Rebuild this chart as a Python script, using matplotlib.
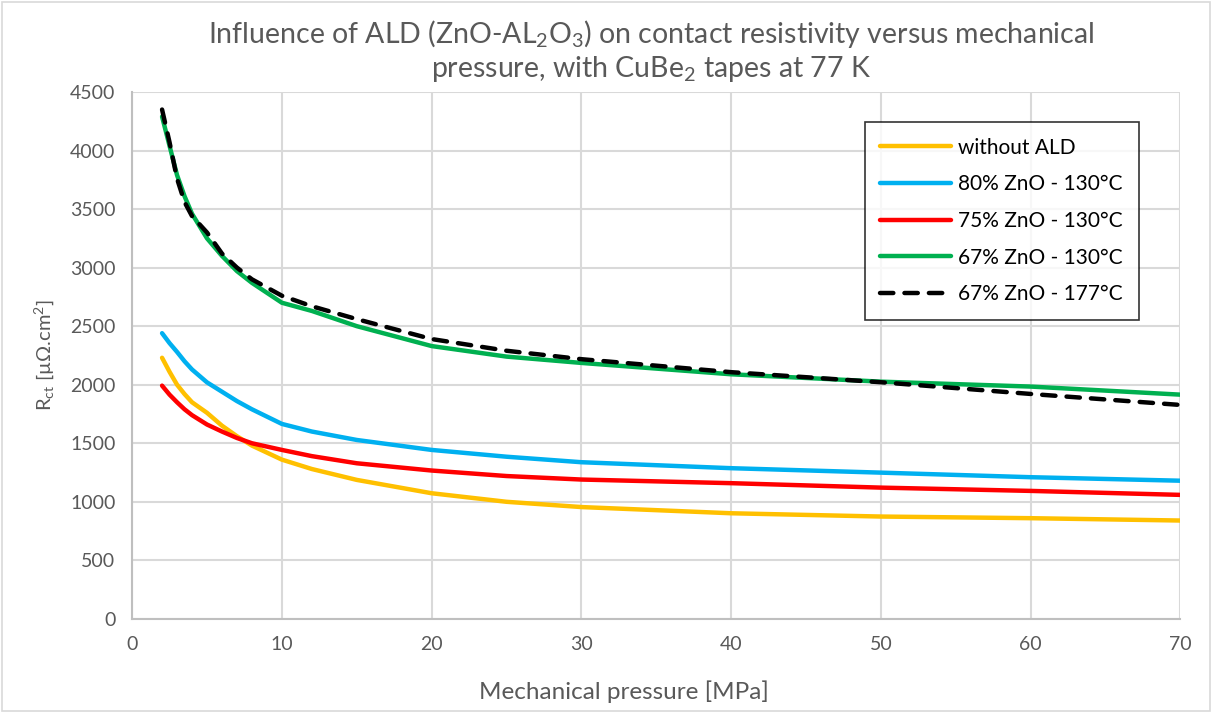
import numpy as np
import matplotlib
matplotlib.use('Agg')
import matplotlib.pyplot as plt
from matplotlib.patches import Rectangle

plt.rcParams['font.family'] = ['Lato', 'DejaVu Sans']
plt.rcParams['mathtext.default'] = 'regular'

# pressure points (MPa)
pressure = [2, 2.5, 3, 3.5, 4, 5, 6, 7, 8, 10, 12, 15, 20, 25, 30, 40, 50, 60, 70]

without_ald = [2230, 2110, 2000, 1920, 1850, 1760, 1650, 1560, 1480, 1360, 1280, 1187, 1073, 1000, 955, 902, 874, 860, 840]
zno80_130 = [2440, 2355, 2280, 2200, 2130, 2020, 1940, 1860, 1790, 1665, 1600, 1528, 1443, 1385, 1338, 1287, 1249, 1210, 1180]
zno75_130 = [1992, 1915, 1850, 1790, 1740, 1660, 1600, 1545, 1500, 1443, 1390, 1329, 1267, 1220, 1190, 1159, 1121, 1093, 1059]
zno67_130 = [4290, 4040, 3790, 3610, 3460, 3250, 3100, 2970, 2870, 2700, 2630, 2500, 2330, 2240, 2186, 2089, 2026, 1984, 1915]
zno67_177 = [4350, 4070, 3760, 3560, 3440, 3300, 3120, 3000, 2900, 2760, 2670, 2560, 2390, 2290, 2218, 2107, 2021, 1921, 1827]

labels = ['without ALD', '80% ZnO - 130°C', '75% ZnO - 130°C', '67% ZnO - 130°C', '67% ZnO - 177°C']
colors = ['#FFC000', '#00B0F0', '#FF0000', '#00B050', '#000000']

txt = '#595959'

fig = plt.figure(figsize=(12.12, 7.13), dpi=100)
ax = fig.add_axes([0.109, 0.132, 0.865, 0.739])

series = [without_ald, zno80_130, zno75_130, zno67_130]
for vals, lab, c in zip(series, labels[:4], colors[:4]):
    ax.plot(pressure, vals, color=c, lw=3.2, label=lab, solid_capstyle='round',
            solid_joinstyle='round', zorder=3)
ax.plot(pressure, zno67_177, color='#000000', lw=3.2, label=labels[4],
        dashes=(3.0, 2.5), dash_capstyle='round', zorder=4)

ax.set_xlim(0, 70)
ax.set_ylim(0, 4500)
ax.set_xticks(np.arange(0, 71, 10))
ax.set_yticks(np.arange(0, 4501, 500))
ax.grid(True, color='#D9D9D9', lw=1.5, zorder=0)
ax.set_axisbelow(True)
for s in ['top', 'right']:
    ax.spines[s].set_visible(False)
for s in ['left', 'bottom']:
    ax.spines[s].set_color('#BFBFBF')
    ax.spines[s].set_linewidth(1.5)
ax.tick_params(length=0, labelsize=14, labelcolor=txt, pad=12)

ax.set_xlabel('Mechanical pressure [MPa]', fontsize=17.5, color=txt, va='center')
ax.xaxis.set_label_coords(0.469, -0.138)
ax.set_ylabel('R$_{ct}$ [µΩ.cm$^2$]', fontsize=14.5, color=txt, labelpad=10)

fig.text(0.537, 0.953, 'Influence of ALD (ZnO-AL$_2$O$_3$) on contact resistivity versus mechanical',
         ha='center', va='center', fontsize=20.5, color=txt)
fig.text(0.537, 0.903, 'pressure, with CuBe$_2$ tapes at 77 K',
         ha='center', va='center', fontsize=20.5, color=txt)

leg = ax.legend(loc='upper right', bbox_to_anchor=(0.96, 0.943), fontsize=15,
                frameon=True, fancybox=False, handlelength=3.4, handletextpad=0.35,
                labelspacing=0.8, borderpad=0.75, borderaxespad=0, labelcolor='#000000')
leg.get_frame().set_edgecolor('#000000')
leg.get_frame().set_linewidth(1.2)

fig.patches.append(Rectangle((0.002, 0.003), 0.996, 0.994, transform=fig.transFigure,
                             fill=False, edgecolor='#D9D9D9', lw=1.2))

fig.savefig('out.png', dpi=100)
